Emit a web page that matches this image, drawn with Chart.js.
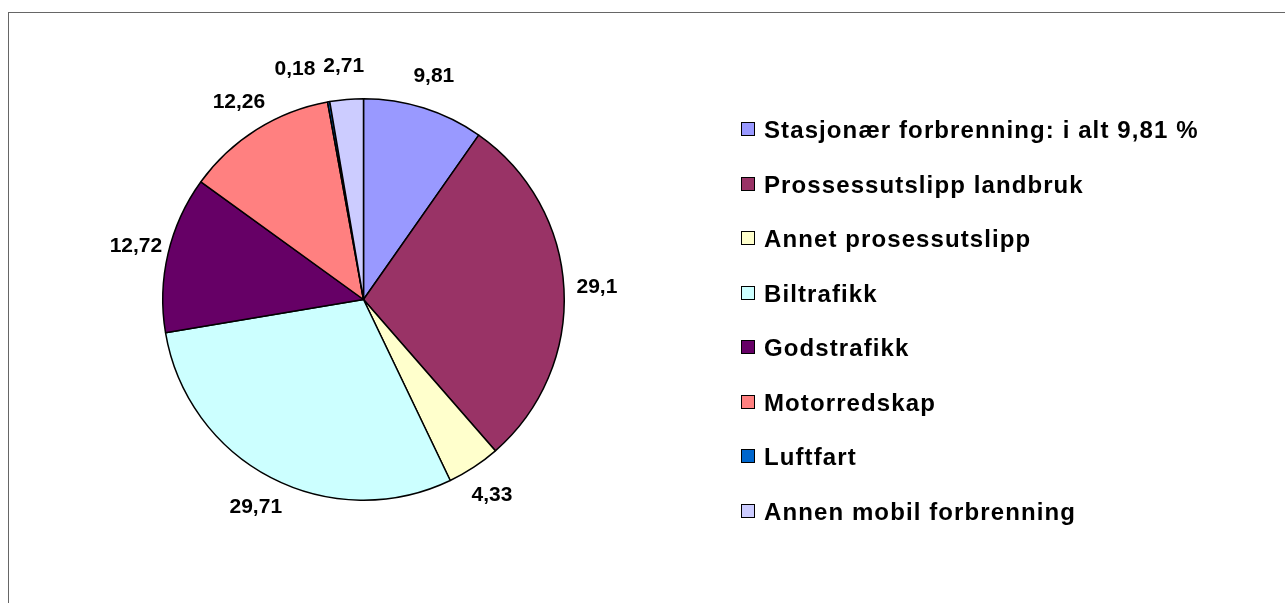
<!DOCTYPE html>
<html>
<head>
<meta charset="utf-8">
<script src="https://cdn.jsdelivr.net/npm/chart.js@4/dist/chart.umd.min.js"></script>
<style>
  html, body { margin: 0; padding: 0; background: #fff; }
  body { width: 1285px; height: 603px; position: relative; overflow: hidden; font-family: "Liberation Sans", Arial, sans-serif; }
  #frame { position: absolute; left: 8px; top: 12px; width: 1300px; height: 620px; border-left: 1px solid #666; border-top: 1px solid #666; }
  #wrap { position: absolute; left: 0; top: 0; width: 1285px; height: 603px; }
  #legend { position: absolute; left: 741px; top: 103px; margin: 0; padding: 0; list-style: none; }
  #legend li { height: 54.5px; display: flex; align-items: center; font-weight: bold; font-size: 24px; letter-spacing: 1.1px; color: #000; white-space: nowrap; }
  #legend .box { width: 12px; height: 12px; border: 1.5px solid #000; margin-right: 9px; margin-top: -2px; }
</style>
</head>
<body>
<div id="frame"></div>
<div id="wrap"><canvas id="pieChart" width="1285" height="603"></canvas></div>
<ul id="legend"></ul>
<script>
// Utslipp etter kilde (%)
const categories = [
  'Stasjonær forbrenning: i alt 9,81 %',
  'Prossessutslipp landbruk',
  'Annet prosessutslipp',
  'Biltrafikk',
  'Godstrafikk',
  'Motorredskap',
  'Luftfart',
  'Annen mobil forbrenning'
];
const values = [9.81, 29.1, 4.33, 29.71, 12.72, 12.26, 0.18, 2.71];
const valueLabels = ['9,81', '29,1', '4,33', '29,71', '12,72', '12,26', '0,18', '2,71'];
const colors = ['#9999FF', '#993366', '#FFFFCC', '#CCFFFF', '#660066', '#FF8080', '#0066CC', '#CCCCFF'];

// value labels outside the slices, nudged apart when they collide
const outsideLabels = {
  id: 'outsideLabels',
  afterDatasetsDraw(chart) {
    const ctx = chart.ctx;
    const arcs = chart.getDatasetMeta(0).data;
    ctx.save();
    ctx.font = 'bold 21px "Liberation Sans", Arial, sans-serif';
    ctx.fillStyle = '#000';
    ctx.textAlign = 'center';
    ctx.textBaseline = 'middle';

    const boxes = arcs.map((arc, i) => {
      const mid = (arc.startAngle + arc.endAngle) / 2;
      const r = arc.outerRadius + 33;
      const w = ctx.measureText(valueLabels[i]).width;
      return { x: arc.x + Math.cos(mid) * r, y: arc.y + Math.sin(mid) * r, w: w, h: 17 };
    });

    for (let i = boxes.length - 2; i >= 0; i--) {
      const a = boxes[i], b = boxes[i + 1];
      const overlapY = Math.abs(a.y - b.y) < (a.h + b.h) / 2;
      const gap = (b.x - b.w / 2) - (a.x + a.w / 2);
      if (overlapY && gap < 8 && a.x <= b.x) a.x -= (8 - gap);
    }

    boxes.forEach((b, i) => ctx.fillText(valueLabels[i], b.x, b.y));
    ctx.restore();
  }
};

new Chart(document.getElementById('pieChart'), {
  type: 'pie',
  data: {
    labels: categories,
    datasets: [{
      data: values,
      backgroundColor: colors,
      borderColor: '#000',
      borderWidth: 1.5,
      hoverOffset: 0
    }]
  },
  options: {
    responsive: false,
    animation: false,
    rotation: 0,
    layout: { padding: { left: 162, top: 98, right: 720, bottom: 102 } },
    plugins: {
      legend: { display: false },
      tooltip: { enabled: false }
    }
  },
  plugins: [outsideLabels]
});

const legend = document.getElementById('legend');
legend.innerHTML = categories.map((c, i) =>
  `<li><span class="box" style="background:${colors[i]}"></span>${c}</li>`
).join('');
</script>
</body>
</html>
